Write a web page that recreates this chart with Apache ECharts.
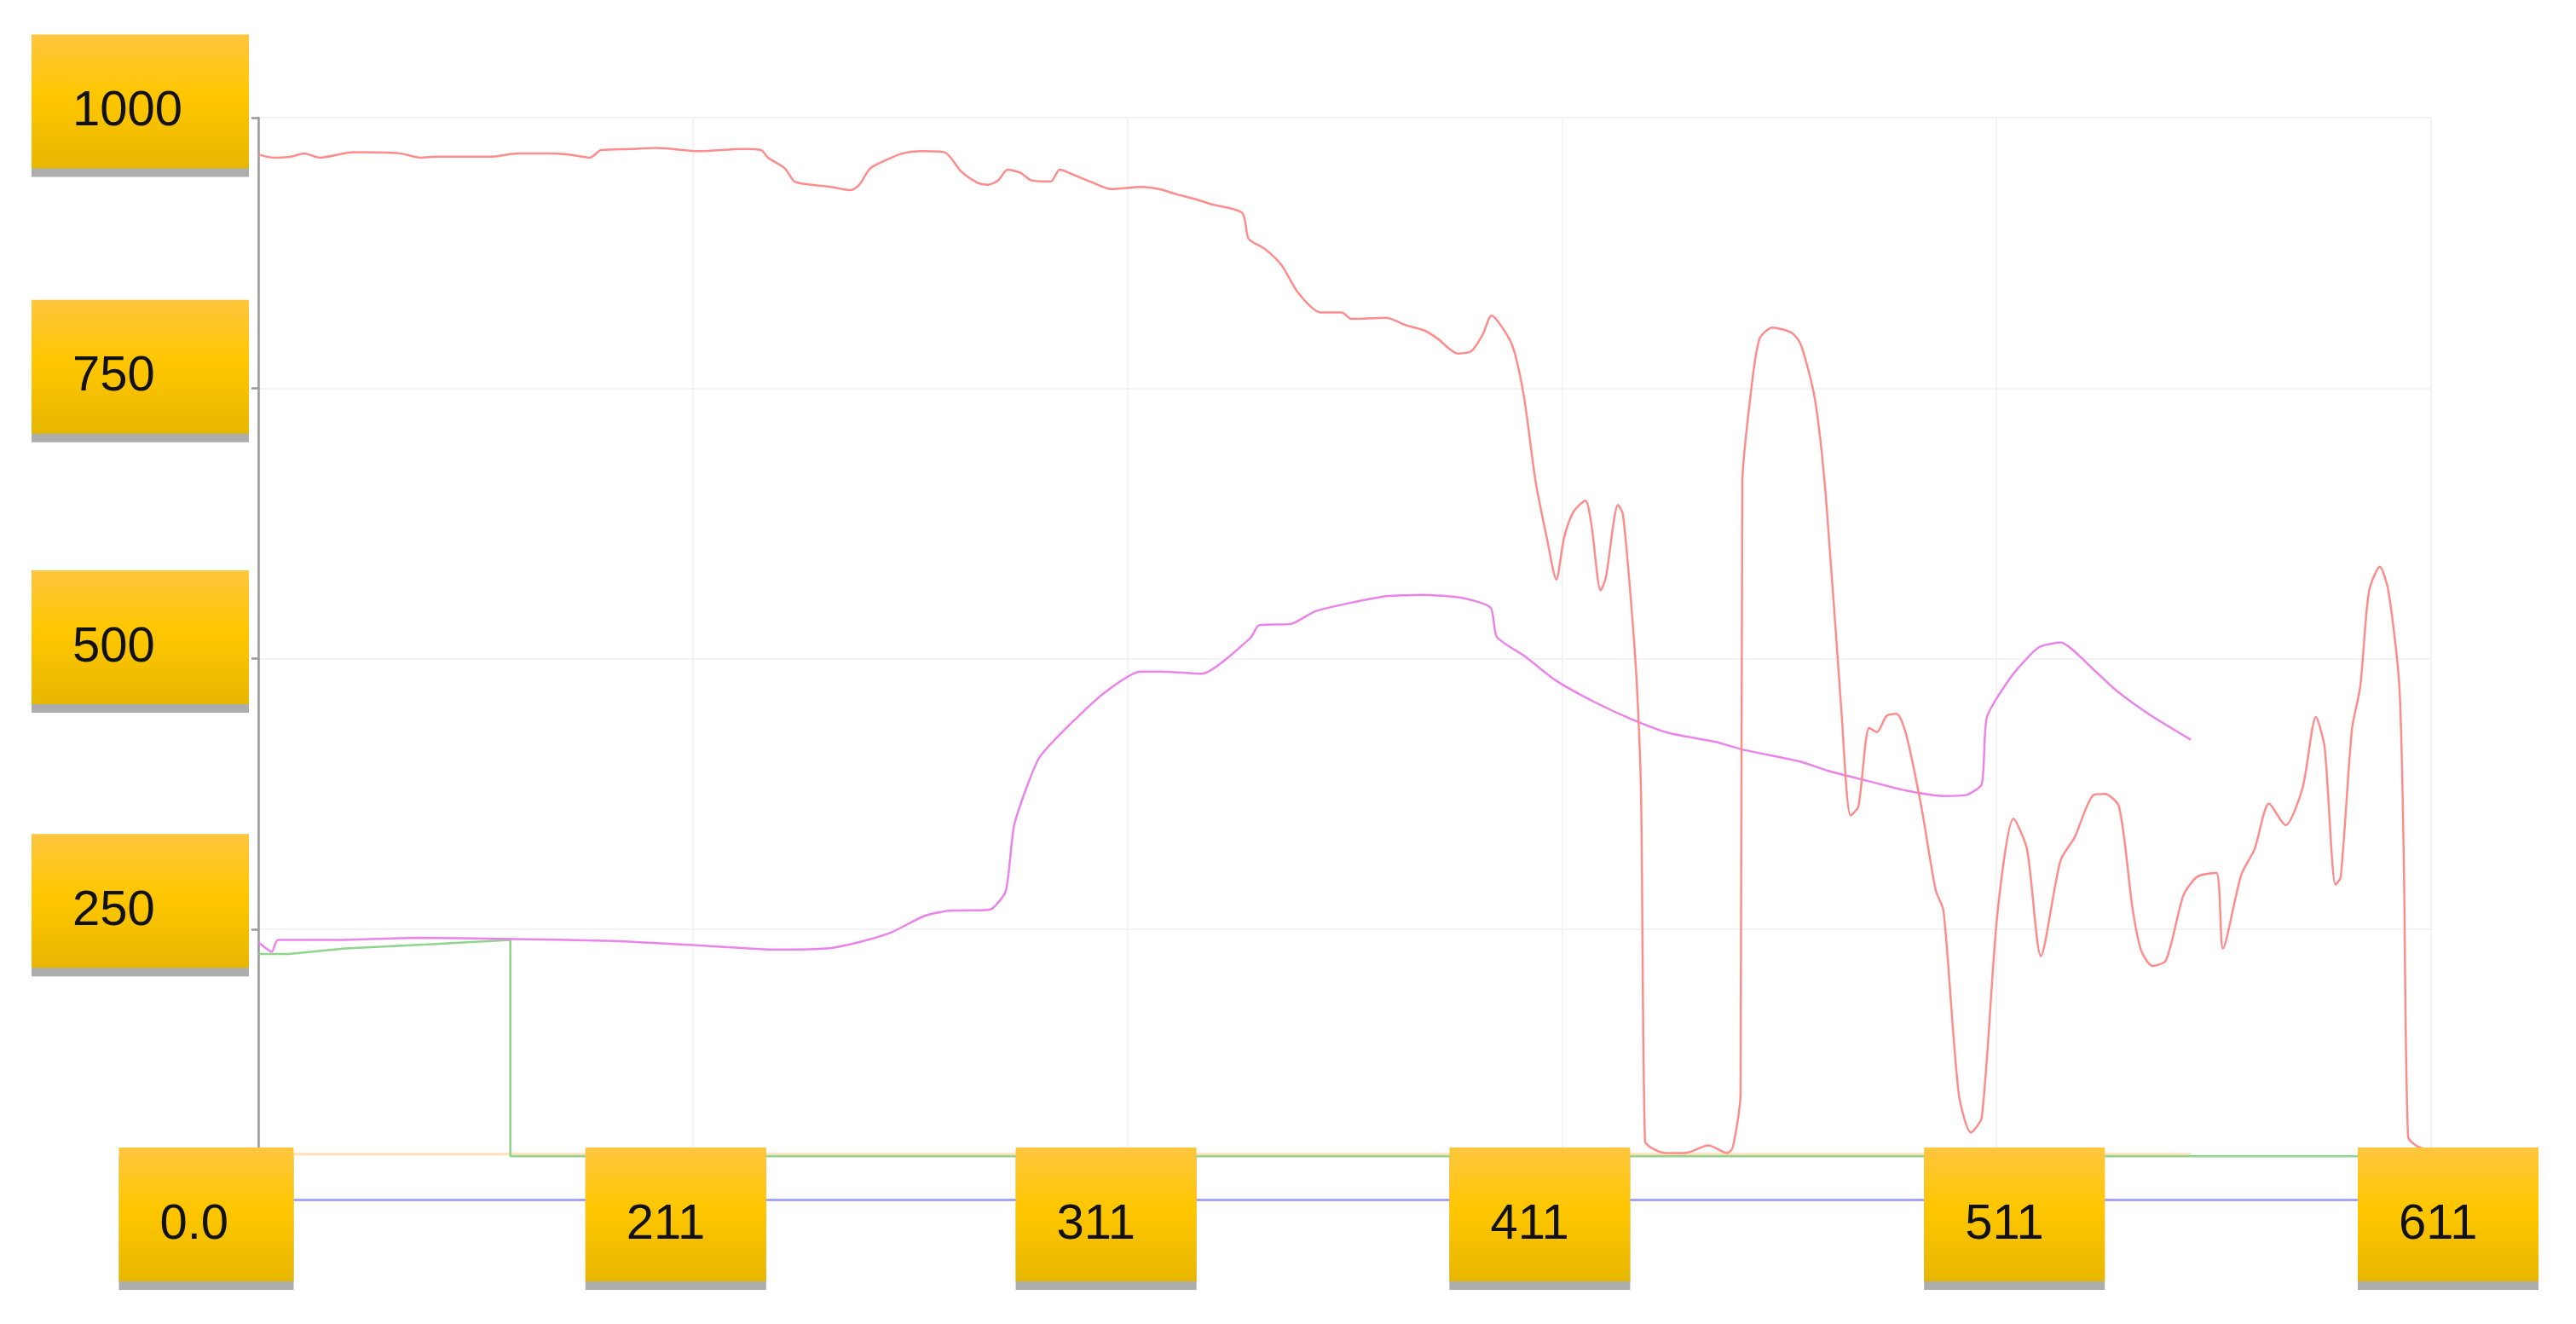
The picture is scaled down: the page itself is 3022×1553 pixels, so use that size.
<!DOCTYPE html>
<html>
<head>
<meta charset="utf-8">
<script src="https://cdn.jsdelivr.net/npm/echarts@6/dist/echarts.min.js"></script>
<style>
  html, body { margin: 0; padding: 0; background: #fff; }
  #chart { width: 3022px; height: 1553px; }
</style>
</head>
<body>
<div id="chart"></div>
<script>
// tick labels
const xTickLabels = ['0.0', '211', '311', '411', '511', '611'];
const yTickLabels = ['250', '500', '750', '1000'];

// red line [x, value]
const redLine = [
  [0, 966], [3.5, 963], [7.5, 964], [10.6, 967], [14.1, 963], [22, 968], [32.6, 967], [37.3, 963],
  [41.2, 964], [45.7, 964], [54, 964], [59.6, 967], [66.7, 967], [71.4, 966], [76.3, 963], [78.9, 970],
  [85.9, 971], [91.6, 972], [101.6, 969], [111.4, 971], [115.7, 970], [117.3, 963], [121.2, 953],
  [123.4, 941], [127.3, 938], [131.8, 936], [136.3, 933], [138.3, 938], [140.8, 953], [144.6, 961],
  [148.3, 967], [152.4, 969], [157.9, 968], [161.8, 950], [165.4, 940], [167.9, 938], [170.3, 942],
  [172.4, 952], [175.4, 949], [177.9, 942], [182.4, 941], [184.4, 952], [188.3, 946], [191.4, 941],
  [196.3, 934], [203.4, 936], [207.3, 934], [211.5, 929], [215.4, 925], [219.3, 920], [226.4, 912],
  [227.9, 888], [231.5, 879], [235.4, 864], [239.3, 838], [244.4, 820], [249.3, 820], [251.5, 814],
  [259.5, 815], [264.2, 808], [268.5, 803], [271.3, 796], [276.0, 782], [279.1, 784], [281.7, 799],
  [283.8, 817], [287.4, 799], [289.1, 783], [291.3, 741], [294.0, 662], [296.6, 610], [298.7, 573],
  [300.5, 612], [302.7, 636], [305.4, 646], [306.8, 623], [308.9, 563], [310.1, 575], [312.9, 642],
  [314.0, 634], [315.8, 557], [317.2, 478], [318.2, 374], [319.1, 54], [320.5, 48], [323.9, 43],
  [328.4, 43], [333.7, 50], [338.0, 43], [339.3, 48], [341.1, 98], [341.5, 662], [343.3, 740],
  [345.4, 795], [348.4, 806], [352.9, 801], [355.0, 790], [358.2, 740], [360.7, 651], [364.3, 452],
  [366.4, 355], [368.2, 363], [370.7, 436], [372.5, 432], [374.7, 447], [377.0, 449], [379.2, 430],
  [382.7, 363], [386.0, 286], [387.8, 267], [391.3, 98], [394.1, 62], [396.6, 76], [400.2, 264],
  [403.9, 352], [407.0, 324], [410.2, 225], [414.7, 313], [418.0, 335], [422.3, 374], [424.9, 375],
  [428.2, 363], [431.3, 269], [433.3, 230], [435.9, 216], [439.0, 221], [442.9, 280], [445.5, 296],
  [447.2, 300], [450.6, 302], [452.1, 232], [456.3, 300], [459.4, 324], [462.7, 366], [466.5, 346],
  [470.4, 380], [473.5, 446], [475.5, 418], [478.0, 291], [479.2, 298], [481.8, 435], [483.7, 474],
  [485.7, 562], [488.2, 585], [490.2, 562], [492.7, 474], [493.7, 318], [494.7, 58], [496.5, 50],
  [499.0, 46]
];

// violet line [x, value]
const violetLine = [
  [0, 238], [3.1, 229], [4.5, 240], [18.2, 240], [36.9, 242], [55.7, 241], [82.0, 239], [100.8, 235],
  [119.5, 231], [130.8, 232], [138.3, 238], [145.7, 247], [153.2, 262], [158.9, 267], [168.3, 268],
  [172.0, 285], [174.0, 347], [179.5, 407], [185.2, 433], [194.6, 468], [203.0, 488], [207.7, 488],
  [217.1, 486], [228.3, 519], [230.3, 531], [237.7, 532], [243.4, 544], [258.3, 557], [267.8, 559],
  [277.2, 556], [283.6, 547], [285.0, 520], [291.5, 502], [298.5, 480], [307.4, 460], [316.0, 444],
  [324.8, 431], [335.4, 423], [341.5, 416], [354.6, 405], [361.5, 396], [370.3, 387], [379.2, 378],
  [387.8, 373], [393.1, 374], [396.6, 384], [397.8, 446], [403.7, 485], [409.6, 510], [414.7, 515],
  [422.3, 490], [427.4, 471], [435.3, 448], [444.7, 425]
];

// green line [x, value]
const greenLine = [[0, 227], [7, 227], [20, 232], [40, 236], [58, 240], [58, 40], [499, 40]];

// orange line [x, value]
const orangeLine = [[0, 42], [444.7, 42]];

// label box tweaks
const xLabelShift = [-61, -20, -25, -26, 21, 20];
const xBoxWidth = [205, 212, 212, 212, 212, 212];
const yLabelShift = [33, 25, 25, 19];

const chart = echarts.init(document.getElementById('chart'));

const boxFill = new echarts.graphic.LinearGradient(0, 0, 0, 1, [
  { offset: 0, color: '#FEC63E' },
  { offset: 0.45, color: '#FFC700' },
  { offset: 1, color: '#E7B700' }
]);

function boxStyle(w) {
  return {
    width: w - 48,
    height: 133,
    padding: [24, 0, 0, 48],
    align: 'left',
    verticalAlign: 'middle',
    fontSize: 58,
    fontFamily: 'Liberation Sans, Arial, sans-serif',
    color: '#111',
    backgroundColor: boxFill,
    shadowColor: '#ADADAD',
    shadowOffsetX: 0,
    shadowOffsetY: 10,
    shadowBlur: 0
  };
}

const xRich = {};
xTickLabels.forEach((t, i) => {
  xRich['b' + i] = boxStyle(xBoxWidth[i]);
  xRich['s' + i] = { width: Math.abs(xLabelShift[i]) * 2, height: 10, fontSize: 4, align: 'left' };
});

const yRich = { b: boxStyle(255) };
yTickLabels.forEach((t, i) => {
  yRich['s' + i] = { width: 4, height: yLabelShift[i] * 2, lineHeight: yLabelShift[i] * 2, fontSize: 4, align: 'left' };
});

function lineSeries(name, data, color, width, smooth) {
  return {
    name: name,
    type: 'line',
    data: data,
    showSymbol: false,
    symbol: 'none',
    smooth: smooth,
    lineStyle: { color: color, width: width },
    itemStyle: { color: color }
  };
}

const option = {
  animation: false,
  backgroundColor: '#fff',
  grid: { left: 303, right: 170, top: 138, bottom: 146, containLabel: false, outerBoundsMode: 'none' },
  xAxis: [
    {
      type: 'value',
      min: 0,
      max: 500,
      interval: 100,
      position: 'bottom',
      axisLine: { show: true, onZero: false, lineStyle: { color: '#A5A5FF', width: 3 } },
      axisTick: { show: false },
      axisLabel: { show: false },
      splitLine: { show: true, lineStyle: { color: '#F3F3F3', width: 2 } }
    },
    {
      type: 'value',
      min: 0,
      max: 500,
      interval: 100,
      position: 'bottom',
      z: 10,
      axisLine: { show: false },
      axisTick: { show: false },
      splitLine: { show: false },
      axisLabel: {
        margin: -61,
        rich: xRich,
        formatter: function (val) {
          const i = Math.round(val / 100);
          const box = '{b' + i + '|' + xTickLabels[i] + '}';
          const sp = '{s' + i + '| }';
          return xLabelShift[i] < 0 ? box + sp : sp + box;
        }
      }
    }
  ],
  yAxis: {
    type: 'value',
    min: 0,
    max: 1000,
    interval: 250,
    axisLine: { show: true, lineStyle: { color: '#999', width: 2.5 } },
    axisTick: { show: true, length: 8, lineStyle: { color: '#999', width: 2.5 } },
    splitLine: { show: true, lineStyle: { color: '#F3F3F3', width: 2 } },
    axisLabel: {
      margin: 11,
      rich: yRich,
      formatter: function (val) {
        const i = Math.round(val / 250) - 1;
        if (i < 0 || i >= yTickLabels.length) return '';
        return '{b|' + yTickLabels[i] + '}\n{s' + i + '| }';
      }
    }
  },
  series: [
    lineSeries('orange', orangeLine, '#FFE0B8', 3, false),
    lineSeries('green', greenLine, '#8FD48F', 2.5, false),
    lineSeries('violet', violetLine, '#EA84EA', 2.5, 0.2),
    lineSeries('red', redLine, '#FF8C8C', 2.5, 0.25)
  ]
};

chart.setOption(option);
</script>
</body>
</html>
